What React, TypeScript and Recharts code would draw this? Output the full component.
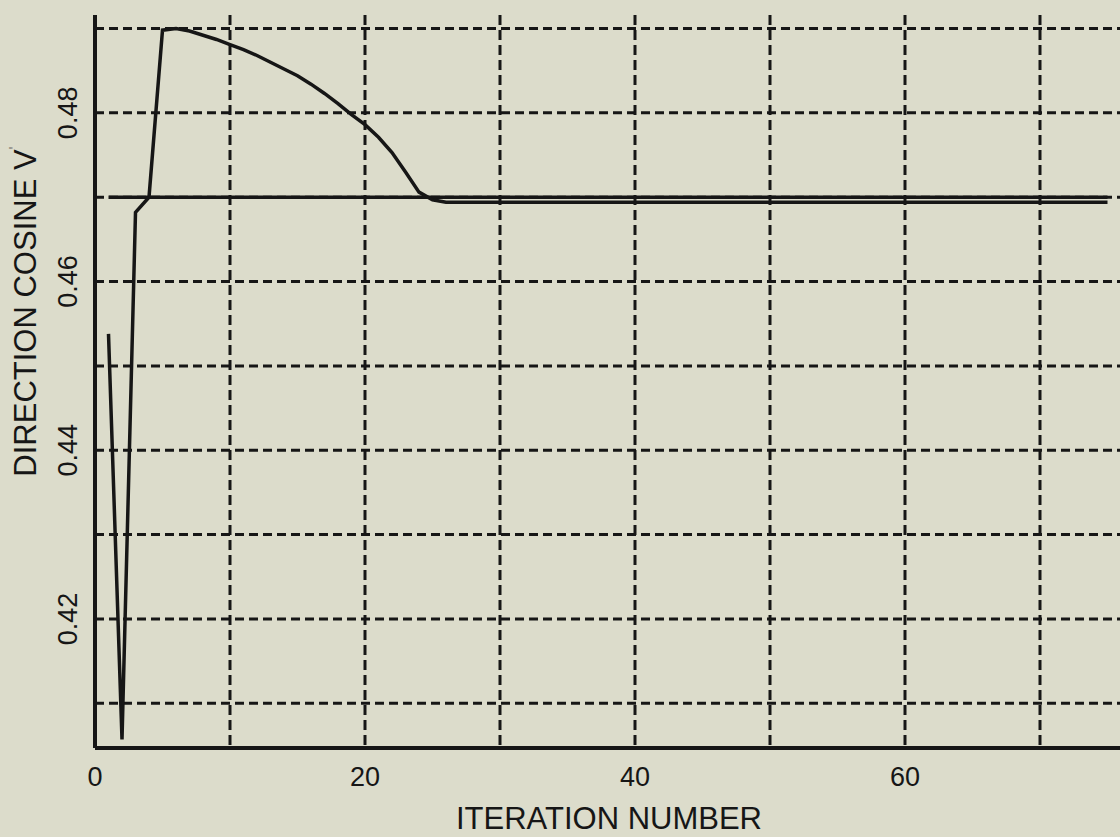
import React from "react";
import { LineChart, Line, XAxis, YAxis, CartesianGrid, ReferenceLine } from "recharts";

// iteration index and the computed direction cosine V at each iteration
const iterations = [
  1, 2, 3, 4, 5, 6, 7, 8, 9, 10, 11, 12, 13, 14, 15, 16, 17, 18, 19, 20, 21, 22, 23, 24, 25,
  26, 27, 28, 29, 30, 31, 32, 33, 34, 35, 36, 37, 38, 39, 40, 41, 42, 43, 44, 45, 46, 47, 48, 49, 50,
  51, 52, 53, 54, 55, 56, 57, 58, 59, 60, 61, 62, 63, 64, 65, 66, 67, 68, 69, 70, 71, 72, 73, 74, 75,
];
const cosineV = [
  0.4538, 0.4057, 0.4682, 0.47, 0.4898, 0.49, 0.4897, 0.4892, 0.4887, 0.4881, 0.4875, 0.4868, 0.486, 0.4852, 0.4844,
  0.4834, 0.4823, 0.4811, 0.4798, 0.4786, 0.4771, 0.4753, 0.473, 0.4706, 0.4697,
  0.4694, 0.4694, 0.4694, 0.4694, 0.4694, 0.4694, 0.4694, 0.4694, 0.4694, 0.4694, 0.4694, 0.4694, 0.4694, 0.4694, 0.4694,
  0.4694, 0.4694, 0.4694, 0.4694, 0.4694, 0.4694, 0.4694, 0.4694, 0.4694, 0.4694,
  0.4694, 0.4694, 0.4694, 0.4694, 0.4694, 0.4694, 0.4694, 0.4694, 0.4694, 0.4694, 0.4694, 0.4694, 0.4694, 0.4694, 0.4694,
  0.4694, 0.4694, 0.4694, 0.4694, 0.4694, 0.4694, 0.4694, 0.4694, 0.4694, 0.4694,
];
// true value drawn as a solid line
const trueV = 0.47;

const xTicks = [0, 10, 20, 30, 40, 50, 60, 70, 80];
const xLabelled = [0, 20, 40, 60];
const yTicks = [0.41, 0.42, 0.43, 0.44, 0.45, 0.46, 0.47, 0.48, 0.49];
const yLabelled = ["0.42", "0.44", "0.46", "0.48"];

const data = iterations.map((it, i) => ({ it, v: cosineV[i] }));

const INK = "#161616";
const FONT = "'Liberation Sans', Arial, sans-serif";

function XTick({ x, y, payload }: any) {
  if (!xLabelled.includes(payload.value)) return null;
  return (
    <text x={x} y={y + 29} textAnchor="middle" dominantBaseline="central" fontFamily={FONT} fontSize={27} fill={INK}>
      {payload.value}
    </text>
  );
}

function YTick({ x, y, payload }: any) {
  const s = Number(payload.value).toFixed(2);
  if (!yLabelled.includes(s)) return null;
  return (
    <text transform={`translate(${x - 27},${y}) rotate(-90)`} textAnchor="middle" dominantBaseline="central" fontFamily={FONT} fontSize={27} fill={INK}>
      {s}
    </text>
  );
}

export default function App() {
  return (
    <div style={{ position: "absolute", left: 0, top: 0, width: 1120, height: 837, overflow: "hidden", background: "#dcdccb" }}>
      <LineChart width={1180} height={837} data={data} margin={{ top: 15, right: 5, bottom: 0, left: 0 }}>
        <CartesianGrid stroke={INK} strokeWidth={3} strokeDasharray="10 5" horizontal={false} />
        {yTicks.map((t) => (
          <ReferenceLine key={t} y={t} stroke={INK} strokeWidth={3} strokeDasharray="9 5" />
        ))}
        <XAxis
          dataKey="it"
          type="number"
          domain={[0, 80]}
          ticks={xTicks}
          height={89}
          tickLine={false}
          tickSize={0}
          tickMargin={0}
          tick={<XTick />}
          axisLine={{ stroke: INK, strokeWidth: 4 }}
          label={{
            content: ({ viewBox }: any) => (
              <text x={viewBox.x + viewBox.width / 2 - 26} y={viewBox.y + 70} textAnchor="middle" dominantBaseline="central" fontFamily={FONT} fontSize={31} fill={INK}>
                ITERATION NUMBER
              </text>
            ),
          }}
        />
        <YAxis
          type="number"
          domain={[0.4047, 0.4916]}
          ticks={yTicks}
          width={95}
          tickLine={false}
          tickSize={0}
          tickMargin={0}
          tick={<YTick />}
          axisLine={{ stroke: INK, strokeWidth: 4 }}
          label={{
            content: ({ viewBox }: any) => (
              <text
                transform={`translate(${viewBox.x + 25},${viewBox.y + viewBox.height / 2 - 70}) rotate(-90)`}
                textAnchor="middle"
                dominantBaseline="central"
                fontFamily={FONT}
                fontSize={31}
                fill={INK}
              >
                DIRECTION COSINE V<tspan fontSize={16} dy={-10} fillOpacity={0.5}>'</tspan>
              </text>
            ),
          }}
        />
        <ReferenceLine
          segment={[{ x: iterations[0], y: trueV }, { x: iterations[iterations.length - 1], y: trueV }]}
          stroke={INK}
          strokeWidth={3.5}
        />
        <Line type="linear" dataKey="v" stroke={INK} strokeWidth={3.5} dot={false} isAnimationActive={false} />
      </LineChart>
    </div>
  );
}
